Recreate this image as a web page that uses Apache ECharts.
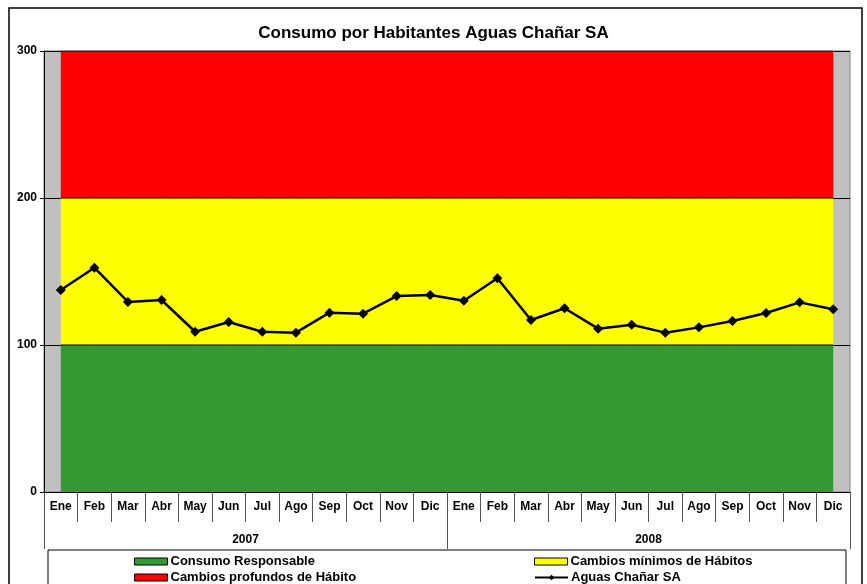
<!DOCTYPE html>
<html><head><meta charset="utf-8">
<script src="https://cdn.jsdelivr.net/npm/echarts@6/dist/echarts.min.js"></script>
<style>html,body{margin:0;padding:0;background:#fff}#c{width:867px;height:584px}</style>
</head><body><div id="c"></div>
<script>
const months = ['Ene','Feb','Mar','Abr','May','Jun','Jul','Ago','Sep','Oct','Nov','Dic','Ene','Feb','Mar','Abr','May','Jun','Jul','Ago','Sep','Oct','Nov','Dic'];
const years = ['2007','2008'];
const yTicks = [0,100,200,300];
const consumo = [137.4,152.6,129.3,130.6,109,115.6,109,108.4,122,121.3,133.3,134,130.1,145.4,117,125,111.1,113.8,108.4,112,116.3,121.8,129,124.3];
const bandResponsable = [100,100,100,100,100,100,100,100,100,100,100,100,100,100,100,100,100,100,100,100,100,100,100,100];
const bandMinimos = [100,100,100,100,100,100,100,100,100,100,100,100,100,100,100,100,100,100,100,100,100,100,100,100];
const bandProfundos = [100,100,100,100,100,100,100,100,100,100,100,100,100,100,100,100,100,100,100,100,100,100,100,100];

const chart = echarts.init(document.getElementById('c'));
const F = 'Liberation Sans, Arial, sans-serif';
const band = (name, data, color) => ({
  name, type:'line', stack:'bg', data, symbol:'none', silent:true,
  lineStyle:{color:'#000', width:1}, itemStyle:{color, borderColor:'#000', borderWidth:1},
  areaStyle:{color, opacity:1}, z:1
});
const leg = (name, left, top, rect) => ({
  orient:'horizontal', left, top, itemWidth:33, itemHeight:7, padding:0,
  data:[rect ? {name, icon:'rect', itemStyle:{borderColor:'#000', borderWidth:1}} : {name}],
  textStyle:{fontFamily:F, fontSize:13, fontWeight:'bold', color:'#000', padding:[0,0,0,-2]}
});
chart.setOption({
  animation:false,
  title:{text:'Consumo por Habitantes Aguas Chañar SA', left:'center', top:20,
    textStyle:{fontFamily:F, fontSize:17, fontWeight:'bold', color:'#000'}},
  grid:{left:44, top:51, width:806, height:441, show:true, backgroundColor:'#C0C0C0', borderColor:'#808080', borderWidth:1},
  xAxis:[
    {type:'category', data:months, boundaryGap:true,
     axisLine:{lineStyle:{color:'#000', width:1}},
     axisTick:{show:true, interval:0, length:30, lineStyle:{color:'#555'}},
     axisLabel:{interval:0, margin:9, fontFamily:F, fontSize:12, fontWeight:'bold', color:'#000'}},
    {type:'category', data:years, position:'bottom', boundaryGap:true,
     axisLine:{show:false},
     axisTick:{show:true, interval:0, length:57, lineStyle:{color:'#555'}},
     axisLabel:{interval:0, margin:42, fontFamily:F, fontSize:12, fontWeight:'bold', color:'#000'}}
  ],
  yAxis:{type:'value', min:yTicks[0], max:yTicks[yTicks.length-1], interval:100,
    axisLine:{show:true, lineStyle:{color:'#000'}},
    axisTick:{show:true, length:4, lineStyle:{color:'#000'}},
    axisLabel:{margin:7, fontFamily:F, fontSize:12, fontWeight:'bold', color:'#000'},
    splitLine:{show:true, lineStyle:{color:'#000', width:1}}},
  legend:[
    leg('Consumo Responsable', 134, 555, true),
    leg('Cambios profundos de Hábito', 134, 571, true),
    leg('Cambios mínimos de Hábitos', 534, 555, true),
    leg('Aguas Chañar SA', 534, 571, false)
  ],
  graphic:[
    {type:'rect', shape:{x:48, y:550, width:798, height:60}, style:{fill:'none', stroke:'#000', lineWidth:1}, silent:true},
    {type:'rect', shape:{x:9, y:8, width:853, height:600}, style:{fill:'none', stroke:'#000', lineWidth:1.5}, silent:true}
  ],
  series:[
    band('Consumo Responsable', bandResponsable, '#339933'),
    band('Cambios mínimos de Hábitos', bandMinimos, '#FFFF00'),
    band('Cambios profundos de Hábito', bandProfundos, '#FF0000'),
    {name:'Aguas Chañar SA', type:'line', data:consumo, symbol:'diamond', symbolSize:10,
     lineStyle:{color:'#000', width:2.5}, itemStyle:{color:'#000'}, z:5}
  ]
});
</script></body></html>
